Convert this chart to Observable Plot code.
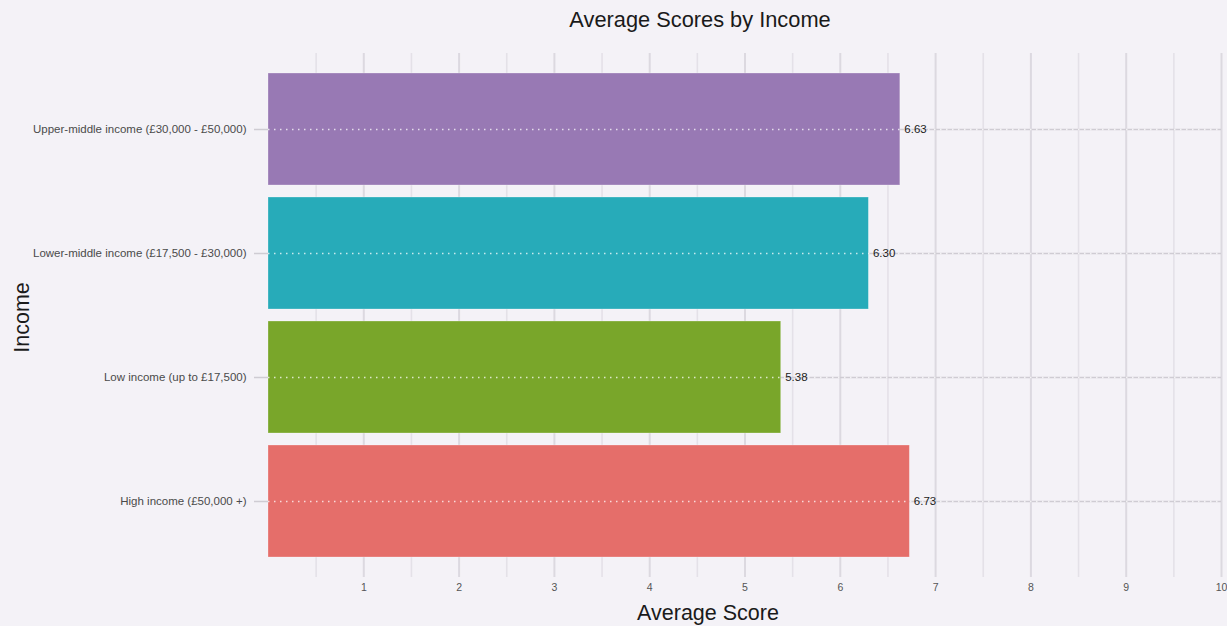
<!DOCTYPE html>
<html>
<head>
<meta charset="utf-8">
<script src="https://cdn.jsdelivr.net/npm/d3@7"></script>
<script src="https://cdn.jsdelivr.net/npm/@observablehq/plot@0.6"></script>
<style>
  html, body { margin: 0; padding: 0; background: #f4f2f7; }
  #chart svg { display: block; }
</style>
</head>
<body>
<div id="chart"></div>
<script>
const categories = [
  "Upper-middle income (£30,000 - £50,000)",
  "Lower-middle income (£17,500 - £30,000)",
  "Low income (up to £17,500)",
  "High income (£50,000 +)"
];
const scores = [6.63, 6.30, 5.38, 6.73];
const colors = ["#9879b4", "#27abb9", "#79a62a", "#e56e6a"];
const xTicks = [1, 2, 3, 4, 5, 6, 7, 8, 9, 10];
const gridHalf = [0.5, 1.5, 2.5, 3.5, 4.5, 5.5, 6.5, 7.5, 8.5, 9.5];
const titleText = "Average Scores by Income";
const xLabel = "Average Score";
const yLabel = "Income";

const data = categories.map((c, i) => ({ income: c, score: scores[i] }));
const font = "'Liberation Sans', Arial, Helvetica, sans-serif";

const chart = Plot.plot({
  width: 1227,
  height: 626,
  marginLeft: 268,
  marginRight: 6,
  marginTop: 53,
  marginBottom: 49,
  style: { background: "#f4f2f7", fontFamily: font },
  x: { domain: [0, 10], ticks: xTicks, label: null },
  y: { domain: categories, paddingInner: 0.1, paddingOuter: 0.16, label: null },
  color: { domain: categories, range: colors },
  marks: [
    Plot.ruleX(gridHalf, { stroke: "#e4e1e8", strokeWidth: 1.6 }),
    Plot.ruleX(xTicks, { stroke: "#dcd9e0", strokeWidth: 2 }),
    Plot.ruleY(categories, { y: d => d, stroke: "#cfccd3", strokeWidth: 1.5 }),
    Plot.barX(data, { x: "score", y: "income", fill: "income", stroke: "#ffffff", strokeOpacity: 0.35, strokeWidth: 0.8 }),
    Plot.ruleY(categories, { y: d => d, stroke: "#ffffff", strokeOpacity: 0.75, strokeWidth: 1.3, strokeDasharray: "1.5,4.5" }),
    Plot.text(data, { x: "score", y: "income", text: d => d.score.toFixed(2), dx: 4, textAnchor: "start", fontSize: 11.5, fill: "#222" }),
    Plot.axisY({ tickSize: 14, tickPadding: 8, stroke: "#cfccd3", fontSize: 11.5, color: "#4a4a4a", label: null, strokeWidth: 1.5 }),
    Plot.axisX({ ticks: xTicks, tickSize: 0, tickPadding: 6, fontSize: 10.5, color: "#555", label: null }),
    Plot.text([titleText], { frameAnchor: "top", lineAnchor: "middle", dy: -33, dx: -45, fontSize: 21.8, fill: "#1a1a1a" }),
    Plot.text([xLabel], { frameAnchor: "bottom", lineAnchor: "middle", dy: 36, dx: -37, fontSize: 21.5, fill: "#1a1a1a" }),
    Plot.text([yLabel], { frameAnchor: "left", textAnchor: "middle", lineAnchor: "middle", dx: -246, dy: 2, rotate: -90, fontSize: 21.5, fill: "#1a1a1a" })
  ]
});
document.getElementById("chart").appendChild(chart);
</script>
</body>
</html>
